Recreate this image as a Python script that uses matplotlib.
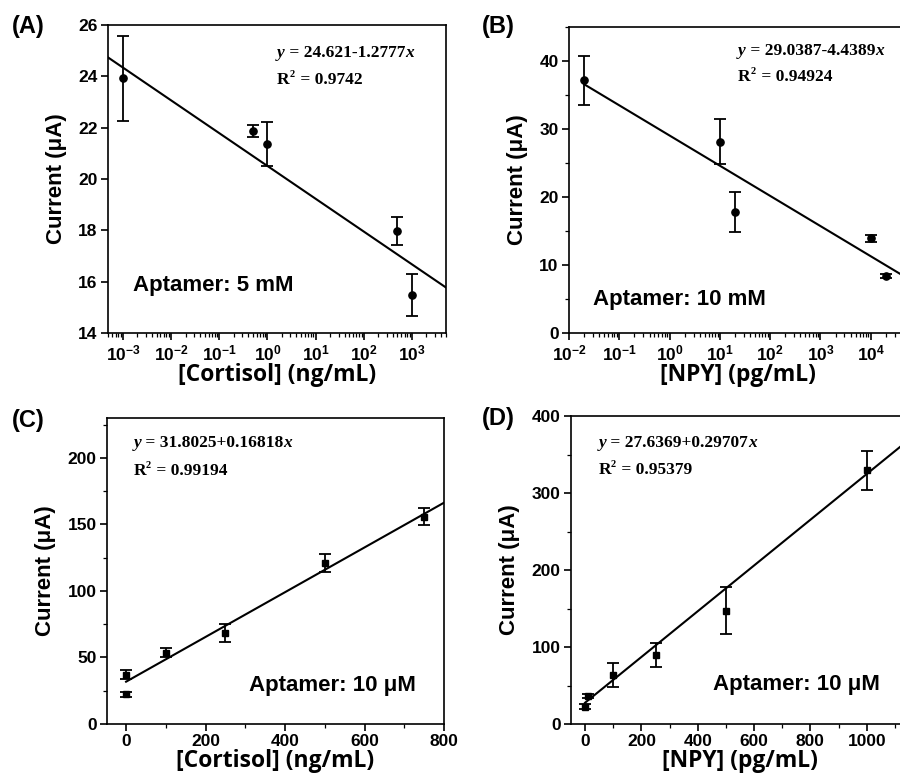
import numpy as np
import matplotlib
matplotlib.use('Agg')
import matplotlib.pyplot as plt
from matplotlib.ticker import LogLocator, MultipleLocator, FuncFormatter, NullFormatter, FixedLocator

plt.rcParams['font.family'] = ['Liberation Sans', 'DejaVu Sans']
plt.rcParams['mathtext.fontset'] = 'custom'
plt.rcParams['mathtext.rm'] = 'Liberation Sans:bold'
plt.rcParams['mathtext.bf'] = 'Liberation Sans:bold'
plt.rcParams['mathtext.it'] = 'Liberation Sans:italic:bold'
plt.rcParams['mathtext.default'] = 'rm'

# ---------------- data ----------------
# (A) cortisol, aptamer 5 mM (log axis)
a_x = [1e-3, 0.5, 1, 500, 1000]
a_y = [23.92, 21.87, 21.36, 17.96, 15.47]
a_err = [1.66, 0.25, 0.87, 0.55, 0.82]
a_fit = (24.621, -1.2777)
a_shift = 3.22
a_eq = ("24.621-1.2777", "0.9742")

# (B) NPY, aptamer 10 mM (log axis)
b_x = [0.02, 10, 20, 1e4, 2e4]
b_y = [37.15, 28.15, 17.77, 13.95, 8.37]
b_err = [3.6, 3.3, 2.9, 0.5, 0.35]
b_fit = (29.0387, -4.4389)
b_eq = ("29.0387-4.4389", "0.94924")

# (C) cortisol, aptamer 10 uM (linear)
c_x = [0, 1, 100, 250, 500, 750]
c_y = [37.0, 22.3, 53.5, 68.3, 121.0, 155.8]
c_err = [3.5, 2.0, 3.4, 6.6, 6.5, 6.4]
c_fit = (31.8025, 0.16818)
c_eq = ("31.8025+0.16818", "0.99194")

# (D) NPY, aptamer 10 uM (linear)
d_x = [0, 10, 100, 250, 500, 1000]
d_y = [22.5, 36.5, 64.1, 89.7, 147.3, 329.4]
d_err = [3.0, 3.0, 15.6, 16.0, 30.5, 25.0]
d_fit = (27.6369, 0.29707)
d_eq = ("27.6369+0.29707", "0.95379")

W, H = 900, 782
fig = plt.figure(figsize=(W / 100, H / 100), dpi=100)

def px_axes(left, top, right, bottom):
    return fig.add_axes([left / W, 1 - bottom / H, (right - left) / W, (bottom - top) / H])

axA = px_axes(108, 25, 446, 333)
axB = px_axes(569, 27, 907, 333)
axC = px_axes(107, 418, 444, 724)
axD = px_axes(571, 416, 909, 724)

LW = 1.2
TICKFS = 12.5

def style(ax):
    for s in ax.spines.values():
        s.set_linewidth(LW)
    ax.tick_params(which='major', direction='out', length=5, width=LW, labelsize=TICKFS, pad=2.5)
    ax.tick_params(which='minor', direction='out', length=3, width=0.9)
    for lab in ax.get_xticklabels() + ax.get_yticklabels():
        lab.set_fontweight('bold')

def eq_text(ax, xf, yf1, yf2, body, r2):
    fs = 12.5
    serif = ['Liberation Serif']
    t1 = ax.text(xf, yf1, 'y', transform=ax.transAxes, fontsize=fs, family=serif,
                 fontweight='bold', fontstyle='italic', va='baseline', ha='left')
    t2 = ax.annotate(' = ' + body, xy=(1, 0), xycoords=t1, fontsize=fs, family=serif,
                     fontweight='bold', va='bottom', ha='left')
    ax.annotate('x', xy=(1, 0), xycoords=t2, fontsize=fs, family=serif,
                fontweight='bold', fontstyle='italic', va='bottom', ha='left')
    r1 = ax.text(xf, yf2, 'R', transform=ax.transAxes, fontsize=fs, family=serif,
                 fontweight='bold', va='baseline', ha='left')
    ax.annotate('2', xy=(1, 0.55), xycoords=r1, fontsize=fs * 0.6, family=serif,
                fontweight='bold', va='bottom', ha='left')
    ax.annotate(' = ' + r2, xy=(1, 0), xycoords=r1, xytext=(4.5, 0), textcoords='offset points',
                fontsize=fs, family=serif, fontweight='bold', va='bottom', ha='left')

def log_fmt(v, pos):
    e = int(round(np.log10(v)))
    return r'$10^{%d}$' % e

XLFONT = dict(family=['Open Sans', 'DejaVu Sans'], fontweight='bold', fontsize=16.5)
YLFONT = dict(fontweight='bold', fontsize=16)
APFS = 16
MS = 5.2

# ---------- (A) ----------
ax = axA
ax.errorbar(a_x, a_y, yerr=a_err, fmt='o', color='black', ms=MS, capsize=4,
            elinewidth=1.3, capthick=1.3)
ax.set_xscale('log')
xlo, xhi = 10 ** -3.311, 10 ** 3.706
ax.set_xlim(xlo, xhi)
ax.set_ylim(14, 26)
xx = np.logspace(np.log10(xlo), np.log10(xhi), 50)
ax.plot(xx, a_fit[0] + a_fit[1] * (np.log10(xx) + a_shift), color='black', lw=1.5)
ax.xaxis.set_major_locator(FixedLocator([10.0 ** k for k in range(-3, 4)]))
ax.xaxis.set_major_formatter(FuncFormatter(log_fmt))
ax.xaxis.set_minor_locator(LogLocator(base=10, subs=np.arange(2, 10), numticks=20))
ax.xaxis.set_minor_formatter(NullFormatter())
ax.yaxis.set_major_locator(MultipleLocator(2))
ax.set_xlabel('[Cortisol] (ng/mL)', labelpad=0, **XLFONT)
ax.set_ylabel('Current (μA)', labelpad=8, **YLFONT)
style(ax)
eq_text(ax, 0.50, 0.895, 0.81, a_eq[0], a_eq[1])
ax.text(0.074, 0.153, 'Aptamer: 5 mM', transform=ax.transAxes, fontsize=APFS,
        fontweight='bold', va='center', ha='left')

# ---------- (B) ----------
ax = axB
ax.errorbar(b_x, b_y, yerr=b_err, fmt='o', color='black', ms=MS, capsize=4,
            elinewidth=1.3, capthick=1.3)
ax.set_xscale('log')
xlo, xhi = 1e-2, 10 ** 4.72
ax.set_xlim(xlo, xhi)
ax.set_ylim(0, 45)
xx = np.logspace(np.log10(b_x[0]), np.log10(xhi), 50)
ax.plot(xx, b_fit[0] + b_fit[1] * np.log10(xx), color='black', lw=1.5)
ax.xaxis.set_major_locator(FixedLocator([10.0 ** k for k in range(-2, 5)]))
ax.xaxis.set_major_formatter(FuncFormatter(log_fmt))
ax.xaxis.set_minor_locator(LogLocator(base=10, subs=np.arange(2, 10), numticks=20))
ax.xaxis.set_minor_formatter(NullFormatter())
ax.yaxis.set_major_locator(MultipleLocator(10))
ax.yaxis.set_minor_locator(MultipleLocator(5))
ax.set_xlabel('[NPY] (pg/mL)', labelpad=0, **XLFONT)
ax.set_ylabel('Current (μA)', labelpad=8, **YLFONT)
style(ax)
eq_text(ax, 0.50, 0.91, 0.825, b_eq[0], b_eq[1])
ax.text(0.071, 0.108, 'Aptamer: 10 mM', transform=ax.transAxes, fontsize=APFS,
        fontweight='bold', va='center', ha='left')

# ---------- (C) ----------
ax = axC
ax.errorbar(c_x, c_y, yerr=c_err, fmt='s', color='black', ms=MS - 0.5, capsize=4,
            elinewidth=1.3, capthick=1.3)
ax.set_xlim(-48, 800)
ax.set_ylim(0, 230)
xx = np.linspace(0, 800, 20)
ax.plot(xx, c_fit[0] + c_fit[1] * xx, color='black', lw=1.5)
ax.xaxis.set_major_locator(MultipleLocator(200))
ax.xaxis.set_minor_locator(MultipleLocator(100))
ax.yaxis.set_major_locator(MultipleLocator(50))
ax.yaxis.set_minor_locator(MultipleLocator(25))
ax.set_xlabel('[Cortisol] (ng/mL)', labelpad=0, **XLFONT)
ax.set_ylabel('Current (μA)', labelpad=8, **YLFONT)
style(ax)
eq_text(ax, 0.078, 0.905, 0.815, c_eq[0], c_eq[1])
ax.text(0.42, 0.126, 'Aptamer: 10 μM', transform=ax.transAxes, fontsize=APFS,
        fontweight='bold', va='center', ha='left')

# ---------- (D) ----------
ax = axD
ax.errorbar(d_x, d_y, yerr=d_err, fmt='s', color='black', ms=MS - 0.5, capsize=4,
            elinewidth=1.3, capthick=1.3)
ax.set_xlim(-50, 1150)
ax.set_ylim(0, 400)
xx = np.linspace(0, 1150, 20)
ax.plot(xx, d_fit[0] + d_fit[1] * xx, color='black', lw=1.5)
ax.xaxis.set_major_locator(MultipleLocator(200))
ax.xaxis.set_minor_locator(MultipleLocator(100))
ax.yaxis.set_major_locator(MultipleLocator(100))
ax.yaxis.set_minor_locator(MultipleLocator(50))
ax.set_xlabel('[NPY] (pg/mL)', labelpad=0, **XLFONT)
ax.set_ylabel('Current (μA)', labelpad=8, **YLFONT)
style(ax)
eq_text(ax, 0.081, 0.90, 0.812, d_eq[0], d_eq[1])
ax.text(0.42, 0.129, 'Aptamer: 10 μM', transform=ax.transAxes, fontsize=APFS,
        fontweight='bold', va='center', ha='left')

# panel labels
for lab, (px, py) in zip(['(A)', '(B)', '(C)', '(D)'],
                         [(12, 27), (482, 27), (12, 421), (482, 419)]):
    fig.text(px / W, 1 - py / H, lab, fontsize=17, fontweight='bold', va='center', ha='left')

fig.savefig('out.png', dpi=100)
